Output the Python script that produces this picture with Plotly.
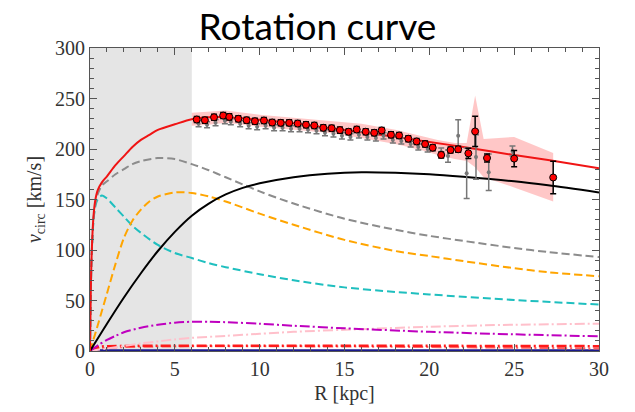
import plotly.graph_objects as go

# ---------------- data ----------------
# model curves (R in kpc, v in km/s)
R_total = [0, 0.05, 0.1, 0.2, 0.3, 0.45, 0.7, 1, 1.5, 2, 2.5, 3, 3.5, 4, 5, 6, 7, 8, 9, 10, 12, 14, 16, 18, 20, 22, 25, 27, 30]
v_total = [0, 62, 97, 132, 148, 159, 167, 173, 184, 193, 202, 209, 214, 219, 224.5, 229.5, 231.5, 231.5, 230.5, 229, 225.5, 221, 216.5, 212, 207, 202, 194, 189, 181]

R_bary = [0, 0.05, 0.1, 0.2, 0.3, 0.45, 0.7, 1, 1.5, 2, 2.5, 3, 4, 5, 6, 7, 8, 9, 10, 12, 15, 18, 20, 22, 25, 27, 30]
v_bary = [0, 60, 95, 129, 144, 155, 164, 168, 175, 180, 185, 188, 191, 190, 185, 179, 172, 165, 158, 146, 131, 120, 114, 109, 102, 98, 93]

R_bulge = [0, 0.05, 0.1, 0.2, 0.3, 0.45, 0.7, 1, 1.5, 2, 2.5, 3, 4, 5, 6, 7, 8, 10, 12, 15, 18, 20, 25, 30]
v_bulge = [0, 60, 95, 128, 142, 150, 154, 151, 142, 133, 124, 117, 105, 97, 92, 87, 83, 76, 70, 63, 58.5, 56, 50.5, 46]

R_disk = [0, 0.5, 1, 1.5, 2, 2.5, 3, 3.5, 4, 5, 6, 7, 8, 10, 12, 15, 18, 20, 22, 25, 27, 30]
v_disk = [0, 28, 57, 86, 112, 129, 140, 148, 153, 157, 156.5, 153, 148, 136, 125, 110, 99, 94, 89, 82, 78, 74]

R_halo = [0, 1, 2, 3, 4, 5, 6, 7, 8, 9, 10, 12, 14, 16, 18, 20, 22, 25, 27, 30]
v_halo = [0, 27, 53, 77, 99, 118, 134, 146, 155, 161.5, 166, 172, 175.5, 177, 176.5, 175, 172.5, 168, 164, 157]

R_thick = [0, 0.5, 1, 1.5, 2, 3, 4, 5, 6, 7, 8, 10, 12, 15, 20, 25, 30]
v_thick = [0, 6, 11, 15, 18.5, 23, 26, 28, 29, 29, 28.5, 27, 25, 22.5, 19, 16.5, 14.5]

R_gas = [0, 1, 2, 3, 4, 5, 6, 8, 10, 12, 15, 20, 25, 30]
v_gas = [0, 2.5, 5, 7.5, 9.5, 11.5, 13, 15, 17, 19, 21, 24, 26, 27]

R_minor1 = [0, 0.3, 0.6, 1, 30]
v_minor1 = [0, 3, 4.3, 4.8, 4.8]

R_minor2 = [0, 0.5, 30]
v_minor2 = [0, 2.5, 2.5]

R_minor3 = [0, 30]
v_minor3 = [0.8, 0.8]

# observed rotation curve (red points)
R_obs = [6.29, 6.77, 7.31, 7.85, 8.21, 8.74, 9.23, 9.72, 10.25, 10.74, 11.24, 11.74, 12.24, 12.73,
         13.22, 13.75, 14.24, 14.73, 15.24, 15.72, 16.25, 16.75, 17.19, 17.74, 18.22, 18.76, 19.25, 19.75,
         20.2, 20.7, 21.25, 21.7, 22.3, 22.7, 23.4, 25.0, 27.3]
v_obs = [229.2, 228.5, 231.4, 233.1, 231.8, 229.9, 228.5, 227.5, 228.2, 226.2, 225.9, 225.9, 225.2, 224.0,
         223.3, 221.0, 220.6, 218.7, 217.1, 219.3, 217.1, 216.1, 218.4, 214.1, 213.4, 210.2, 207.5, 204.9,
         201.3, 194.1, 199.0, 199.7, 195.7, 217.4, 191.1, 190.5, 171.8]
e_obs = [3] * 28 + [3, 3, 3, 3, 5, 15, 4, 8, 16]

# second data set (gray points)
R_alt = [6.4, 6.9, 7.4, 7.95, 8.3, 8.85, 9.35, 9.85, 10.35, 10.85, 11.35, 11.85, 12.35, 12.85,
         13.35, 13.85, 14.35, 14.85, 15.35, 15.85, 16.35, 16.85, 17.3, 17.85, 18.35, 18.9, 19.35, 19.9,
         20.7, 21.1, 21.7, 22.2, 22.75, 23.5, 24.9]
v_alt = [225, 224, 226, 228, 227, 225, 223, 222, 223, 221, 221, 220, 220, 219,
         218, 216, 215, 213, 212, 214, 212, 211, 213, 209, 208, 205, 202, 200,
         197, 193, 213, 176, 192, 177, 198]
e_alt = [3] * 28 + [4, 6, 16, 25, 22, 18, 5]

# uncertainty band around the observations
R_band = [6.0, 7.0, 8.0, 10.0, 12.0, 14.0, 16.0, 18.0, 19.5, 20.5, 21.5, 22.2, 22.7, 23.2, 25.0, 27.3]
v_band_hi = [236, 237, 238, 234, 231, 228, 225, 219, 213, 209, 206, 206, 253, 210, 212, 196]
v_band_lo = [223, 224, 226, 222, 219, 216, 211, 205, 199, 194, 190, 188, 182, 172, 162, 148]

inner_region = [0, 6]

# ---------------- figure ----------------
fig = go.Figure()

fig.add_shape(type="rect", xref="x", yref="y domain", x0=inner_region[0], x1=inner_region[1],
              y0=0, y1=1, fillcolor="#e5e5e5", line_width=0, layer="below")

fig.add_trace(go.Scatter(x=R_band + R_band[::-1], y=v_band_hi + v_band_lo[::-1],
                         fill="toself", fillcolor="rgba(255,0,0,0.22)", line=dict(width=0),
                         mode="lines", hoverinfo="skip"))

def curve(x, y, color, dash="solid", width=2):
    fig.add_trace(go.Scatter(x=x, y=y, mode="lines",
                             line=dict(color=color, dash=dash, width=width, shape="spline", smoothing=0.8)))

dash_d = "8px,4px"
dash_dd = "10px,3px,2px,3px"
curve(R_minor3, v_minor3, "#1a1a8c", "solid", 2)
curve(R_minor2, v_minor2, "#ff6060", dash_dd, 2)
curve(R_minor1, v_minor1, "#ff1a1a", dash_dd, 2.5)
curve(R_gas, v_gas, "#ffc0cb", dash_dd, 2)
curve(R_thick, v_thick, "#bf00bf", dash_dd, 2)
curve(R_bulge, v_bulge, "#1fbfbf", dash_d, 2)
curve(R_disk, v_disk, "#ffa500", dash_d, 2)
curve(R_bary, v_bary, "#8c8c8c", dash_d, 2)
curve(R_halo, v_halo, "black", "solid", 2)
curve(R_total, v_total, "#f01414", "solid", 2)

fig.add_trace(go.Scatter(x=R_alt, y=v_alt, mode="markers",
                         marker=dict(color="#777777", size=4),
                         error_y=dict(type="data", array=e_alt, color="#777777", thickness=1.5, width=3)))
fig.add_trace(go.Scatter(x=R_obs, y=v_obs, mode="markers",
                         marker=dict(color="#ff0000", size=7, line=dict(color="black", width=1)),
                         error_y=dict(type="data", array=e_obs, color="black", thickness=1.5, width=3)))

serif = "Liberation Serif"
axis_common = dict(
    showgrid=False, zeroline=False, showline=True, linecolor="#555555", linewidth=1,
    mirror="ticks", ticks="inside", ticklen=7, tickcolor="#555555", tickwidth=1,
    tickfont=dict(family=serif, size=20, color="#333333"),
)
fig.update_xaxes(range=[0, 30], tick0=0, dtick=5,
                 minor=dict(ticks="inside", ticklen=4, dtick=1, tickcolor="#555555"),
                 title=dict(text="R [kpc]", font=dict(family=serif, size=20, color="#333333"), standoff=6),
                 **axis_common)
fig.update_yaxes(range=[0, 300], tick0=0, dtick=50,
                 minor=dict(ticks="inside", ticklen=4, dtick=10, tickcolor="#555555"),
                 title=dict(text="<i>v</i><sub>circ</sub> [km/s]", font=dict(family=serif, size=20, color="#333333"), standoff=8),
                 **axis_common)

fig.update_layout(
    width=635, height=412,
    margin=dict(l=90, r=36, t=48, b=59),
    paper_bgcolor="white", plot_bgcolor="white",
    font=dict(family=serif, size=20, color="#333333"),
    showlegend=False,
    title=dict(text="Rotation curve", x=0.5, xanchor="center", xref="container",
               y=0.935, yanchor="middle", yref="container",
               font=dict(family="Lato", size=37, color="black")),
)

fig.write_html("out.html")
